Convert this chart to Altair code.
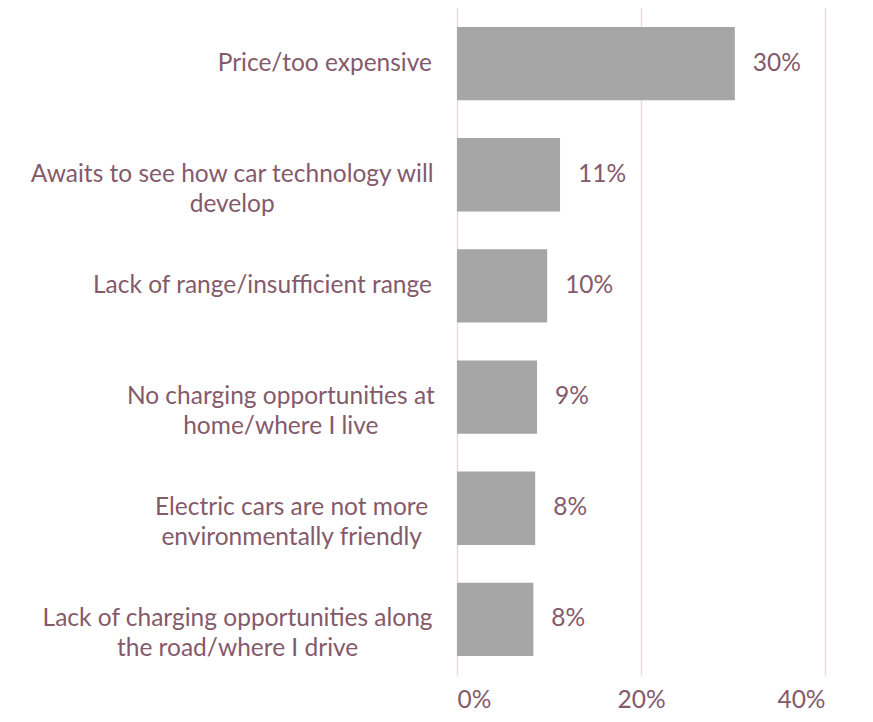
import altair as alt
import pandas as pd

categories = [
    "Price/too expensive",
    "Awaits to see how car technology will\ndevelop",
    "Lack of range/insufficient range",
    "No charging opportunities at\nhome/where I live",
    "Electric cars are not more\nenvironmentally friendly",
    "Lack of charging opportunities along\nthe road/where I drive",
]
values = [0.302, 0.112, 0.098, 0.087, 0.085, 0.083]
value_labels = ["30%", "11%", "10%", "9%", "8%", "8%"]
x_ticks = [0, 0.2, 0.4]

TEXT = "#845a6b"
FONT = "Lato"
FS = 24.5
K = 10.8

df = pd.DataFrame({"cat": categories, "value": values, "label": value_labels})

y = alt.Y("cat:N", sort=categories, axis=None,
          scale=alt.Scale(paddingInner=0.34, paddingOuter=0.17))

base = alt.Chart(df)

bars = base.mark_bar(color="#a6a6a6").encode(
    x=alt.X("value:Q", scale=alt.Scale(domain=[0, 0.4]),
            axis=alt.Axis(values=x_ticks, format=".0%", domain=False, ticks=False,
                          grid=True, gridColor="#e8dade", gridWidth=1.5,
                          labelColor=TEXT, labelFont=FONT, labelFontSize=FS,
                          labelPadding=13, title=None)),
    y=y,
)

vals = base.mark_text(align="left", baseline="middle", dx=18, color=TEXT,
                      font=FONT, fontSize=FS).encode(
    x="value:Q", y=y, text="label:N")

single = base.transform_filter("indexof(datum.cat, '\\n') < 0").mark_text(
    align="right", baseline="middle", color=TEXT, font=FONT, fontSize=FS
).encode(x=alt.value(-25), y=y, text="cat:N")

multi = base.transform_filter("indexof(datum.cat, '\\n') >= 0").transform_calculate(
    first="split(datum.cat, '\\n')[0]"
).transform_calculate(
    px=f"-25 - length(datum.first) * {K} / 2"
).mark_text(
    align="center", baseline="middle", color=TEXT, font=FONT, fontSize=FS,
    lineBreak="\n", lineHeight=30
).encode(x=alt.X("px:Q", scale=None), y=y, text="cat:N")

chart = alt.layer(bars, vals, single, multi).properties(
    width=368, height=667,
    autosize=alt.AutoSizeParams(type="none"),
    padding={"left": 449, "top": 0, "right": 40, "bottom": 38},
).configure_view(stroke=None)

chart.save("out.html", embed_options={"renderer": "svg", "actions": False})
